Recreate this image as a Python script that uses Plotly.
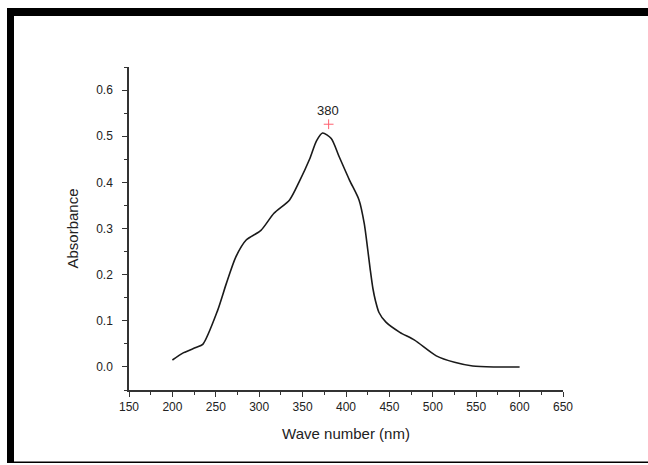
import plotly.graph_objects as go

# absorbance spectrum
wavelength = [200, 213, 227, 235, 252, 262, 273, 285, 302, 317, 335, 346, 358, 366, 373,
              383, 392, 404, 415, 421, 425, 428, 431, 434, 438, 446, 462, 479, 504, 525, 546, 570, 600]
absorbance = [0.015, 0.031, 0.042, 0.049, 0.122, 0.18, 0.238, 0.275, 0.296, 0.333, 0.362,
              0.401, 0.45, 0.49, 0.507, 0.495, 0.456, 0.405, 0.362, 0.311, 0.255, 0.21,
              0.17, 0.143, 0.118, 0.097, 0.075, 0.058, 0.024, 0.01, 0.002, 0.0, 0.0]

peak_x = [380]
peak_y = [0.526]
peak_label = "380"

x_ticks = list(range(150, 651, 50))
y_ticks = [0.0, 0.1, 0.2, 0.3, 0.4, 0.5, 0.6]

W, H = 648, 465
L, R, T, B = 129, 85, 67, 75
pw, ph = W - L - R, H - T - B


def px(x):
    return (x - L) / pw


def py(y):
    return (H - B - y) / ph


FONT = "Liberation Sans, Arial, sans-serif"

fig = go.Figure()

fig.add_trace(go.Scatter(
    x=wavelength, y=absorbance,
    mode="lines",
    line=dict(color="#1a1a1a", width=1.6, shape="spline", smoothing=0.7),
    showlegend=False,
))

fig.add_trace(go.Scatter(
    x=peak_x, y=peak_y,
    mode="markers",
    marker=dict(symbol="cross-thin", size=7, line=dict(color="#ff6070", width=1)),
    showlegend=False,
))

fig.add_annotation(
    x=peak_x[0], y=peak_y[0], text=peak_label,
    showarrow=False, yshift=14, xshift=-1,
    font=dict(family=FONT, size=13, color="#222"),
)

axis_common = dict(
    showgrid=False, zeroline=False,
    showline=True, linecolor="#333", linewidth=1.5,
    ticks="outside", ticklen=5, tickwidth=1.3, tickcolor="#333",
    tickfont=dict(family=FONT, size=12, color="#222"),
)

fig.update_xaxes(
    range=[150, 650], tickvals=x_ticks,
    minor=dict(ticks="outside", ticklen=3, tickwidth=1.1, tickcolor="#333", dtick=25, tick0=150),
    title=dict(text="Wave number (nm)", font=dict(family=FONT, size=15, color="#222"), standoff=15),
    **axis_common,
)
fig.update_yaxes(
    range=[-0.05, 0.65], tickvals=y_ticks, tickformat=".1f", ticklabelstandoff=7,
    minor=dict(ticks="outside", ticklen=3, tickwidth=1.1, tickcolor="#333", dtick=0.05, tick0=0),
    title=dict(text="Absorbance", font=dict(family=FONT, size=15, color="#222"), standoff=14),
    **axis_common,
)

# black frame around the picture (top band, left band, thin bottom line)
frame = [
    dict(x0=px(7), x1=px(W), y0=py(16), y1=py(8)),
    dict(x0=px(7), x1=px(14), y0=py(462), y1=py(8)),
    dict(x0=px(7), x1=px(W), y0=py(463), y1=py(461.5)),
]
for f in frame:
    fig.add_shape(type="rect", xref="paper", yref="paper",
                  fillcolor="black", line=dict(width=0), layer="above", **f)

fig.update_layout(
    width=W, height=H,
    margin=dict(l=L, r=R, t=T, b=B),
    paper_bgcolor="white", plot_bgcolor="white",
    font=dict(family=FONT),
)

fig.write_html("out.html", config={"displayModeBar": False},
               post_script="document.body.style.margin='0';")
